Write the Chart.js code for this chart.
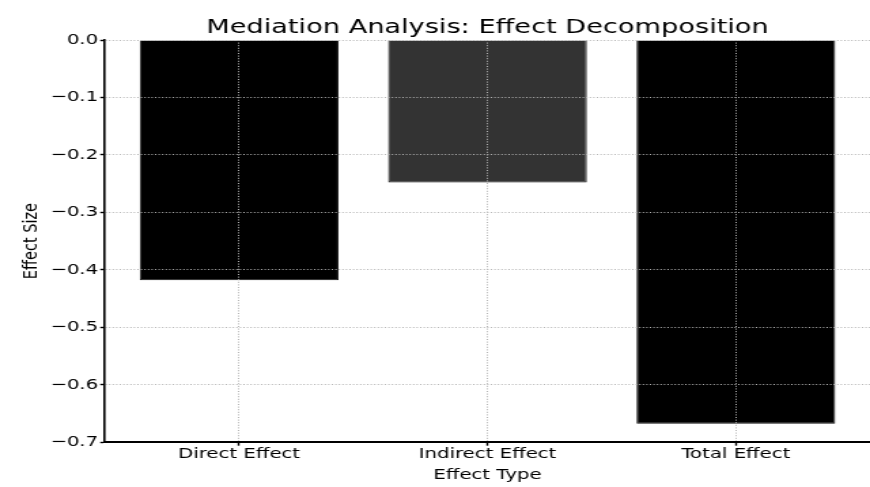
<!DOCTYPE html>
<html>
<head>
<meta charset="utf-8">
<title>Mediation Analysis: Effect Decomposition</title>
<script src="https://cdn.jsdelivr.net/npm/chart.js@4"></script>
<style>
  html, body { margin: 0; padding: 0; background: #fff; overflow: hidden; }
  /* chart is drawn at 640 wide and stretched to 870, like the reference */
  #wrap {
    position: relative;
    width: 640px;
    height: 487px;
    transform: scaleX(1.359375);
    transform-origin: 0 0;
  }
</style>
</head>
<body>
<div id="wrap"><canvas id="chart"></canvas></div>
<script>
/* ---- Data ---- */
const chartTitle = 'Mediation Analysis: Effect Decomposition';
const categories = ['Direct Effect', 'Indirect Effect', 'Total Effect'];
const effectSizes = [-0.418, -0.248, -0.668];
const barColors = ['#000000', '#333333', '#000000'];
const yTicks = [0, -0.1, -0.2, -0.3, -0.4, -0.5, -0.6, -0.7];

Chart.defaults.font.family = '"DejaVu Sans", sans-serif';
Chart.defaults.color = '#000';

/* grid drawn above the bars, dotted, as in the reference */
const gridStyle = {
  color: '#b4b4b4',
  lineWidth: 1,
  offset: false,
  z: 1,
  tickColor: '#000',
  tickLength: 3.5,
  tickWidth: 1.4,
  tickBorderDash: [],
};

/* ---- Title centred over the plot area ---- */
const plotTitle = {
  id: 'plotTitle',
  afterDraw(chart) {
    const { ctx, chartArea } = chart;
    ctx.save();
    ctx.font = '20px "DejaVu Sans", sans-serif';
    ctx.fillStyle = '#000';
    ctx.textAlign = 'center';
    ctx.textBaseline = 'alphabetic';
    ctx.fillText(chartTitle, (chartArea.left + chartArea.right) / 2, 33);
    ctx.restore();
  },
};

new Chart(document.getElementById('chart'), {
  type: 'bar',
  data: {
    datasets: [{
      data: categories.map((c, i) => ({ x: i, y: effectSizes[i] })),
      backgroundColor: barColors,
      borderColor: '#111',
      borderWidth: 1,
      barPercentage: 0.8,
      categoryPercentage: 1,
    }],
  },
  options: {
    responsive: true,
    maintainAspectRatio: false,
    animation: false,
    layout: { padding: { top: 40, left: 10.1, right: 0, bottom: 3.5 } },
    plugins: {
      legend: { display: false },
      title: { display: false },
      tooltip: { enabled: false },
    },
    scales: {
      x: {
        type: 'linear',
        position: 'bottom',
        offset: false,
        min: -0.54,
        max: 2.54,
        afterBuildTicks: (axis) => {
          axis.ticks = categories.map((c, i) => ({ value: i }));
        },
        ticks: {
          autoSkip: false,
          maxRotation: 0,
          padding: -0.5,
          z: 2,
          font: { size: 14.5 },
          callback: (v) => categories[v] ?? '',
        },
        grid: gridStyle,
        border: { display: true, color: '#000', width: 2, dash: [1, 1.6], z: 2 },
        title: {
          display: true,
          text: 'Effect Type',
          font: { size: 14.5 },
          padding: { top: 4, bottom: 0 },
        },
      },
      y: {
        min: -0.7,
        max: 0,
        afterBuildTicks: (axis) => {
          axis.ticks = yTicks.map((v) => ({ value: v }));
        },
        ticks: {
          padding: 1.5,
          z: 2,
          font: { size: 14.5 },
          callback: (v) => v.toFixed(1).replace('-', '\u2212'),
        },
        grid: gridStyle,
        border: { display: true, color: '#000', width: 1.6, dash: [1, 1.6], z: 2 },
        title: {
          display: true,
          text: 'Effect Size',
          font: { size: 14.5 },
          padding: { top: 4, bottom: 4 },
        },
      },
    },
  },
  plugins: [plotTitle],
});
</script>
</body>
</html>
